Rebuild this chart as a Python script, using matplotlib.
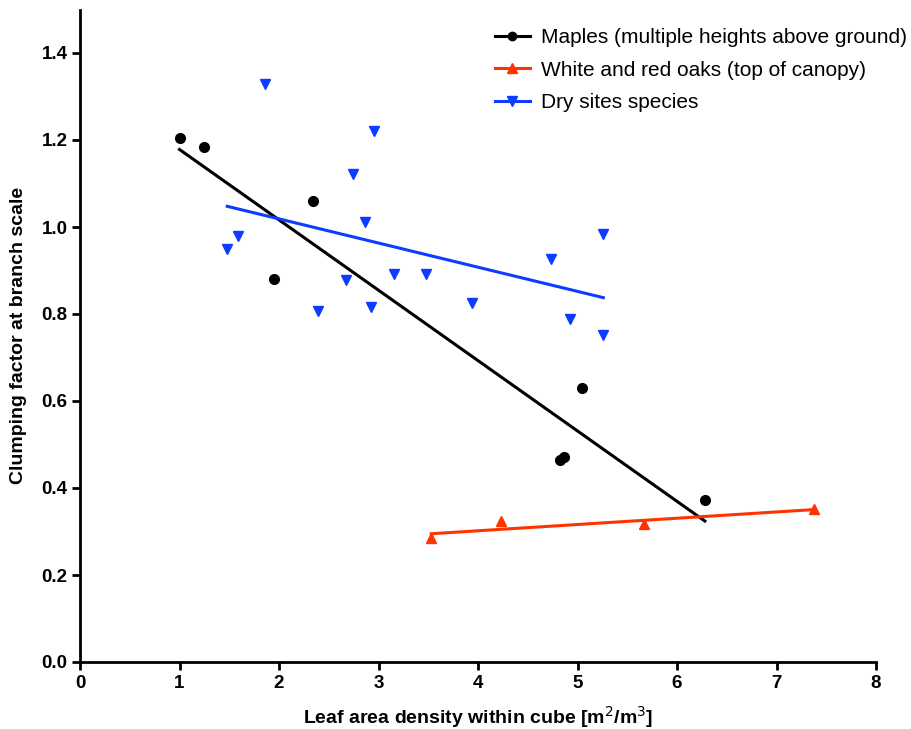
import matplotlib.pyplot as plt
import numpy as np

plt.rcParams['font.family'] = ['Liberation Sans', 'DejaVu Sans']

# Maples, several heights above ground
maple_lad = [1.00, 1.25, 2.34, 1.95, 5.05, 4.82, 4.86, 6.28]
maple_omega = [1.205, 1.183, 1.059, 0.880, 0.629, 0.464, 0.471, 0.372]

# White and red oaks, top of canopy
oak_lad = [3.53, 4.23, 5.67, 7.38]
oak_omega = [0.284, 0.323, 0.317, 0.352]

# Dry sites species
dry_lad = [1.86, 2.95, 2.74, 2.86, 1.59, 1.48, 2.67, 3.16, 3.48, 2.39,
           2.92, 5.26, 4.73, 3.94, 4.92, 5.26]
dry_omega = [1.329, 1.221, 1.122, 1.011, 0.979, 0.949, 0.878, 0.893, 0.893,
             0.807, 0.817, 0.985, 0.927, 0.825, 0.788, 0.752]

series = [
    ('Maples (multiple heights above ground)', maple_lad, maple_omega, 'black', 'o', 7),
    ('White and red oaks (top of canopy)', oak_lad, oak_omega, '#ff3300', '^', 7.5),
    ('Dry sites species', dry_lad, dry_omega, '#0d3bff', 'v', 7.5),
]

fig = plt.figure(figsize=(9.11, 7.29), dpi=100)
ax = fig.add_axes([80 / 911, 1 - 662 / 729, 796 / 911, 652.5 / 729])

for label, x, y, color, marker, ms in series:
    x = np.asarray(x)
    y = np.asarray(y)
    ax.plot(x, y, linestyle='none', marker=marker, color=color,
            markersize=ms, clip_on=False, zorder=3)
    # linear regression over the range of the data
    slope, intercept = np.polyfit(x, y, 1)
    xf = np.array([x.min(), x.max()])
    ax.plot(xf, slope * xf + intercept, color=color, lw=2.2, zorder=2)
    # legend proxy: line with marker
    ax.plot([], [], color=color, marker=marker, markersize=ms - 1, lw=2.2,
            label=label)

ax.set_xlim(0, 8)
ax.set_ylim(0, 1.5)
ax.set_xticks(np.arange(0, 9, 1))
ax.set_yticks(np.arange(0, 1.41, 0.2))
ax.set_yticklabels([f'{v:.1f}' for v in np.arange(0, 1.41, 0.2)])

for side in ('top', 'right'):
    ax.spines[side].set_visible(False)
for side in ('left', 'bottom'):
    ax.spines[side].set_linewidth(2)

ax.tick_params(direction='out', length=6, width=2, labelsize=13.5, pad=3)
for lab in ax.get_xticklabels() + ax.get_yticklabels():
    lab.set_fontweight('bold')

ax.set_xlabel('Leaf area density within cube [m$^2$/m$^3$]',
              fontsize=14, fontweight='bold', labelpad=9)
ax.set_ylabel('Clumping factor at branch scale', fontsize=14,
              fontweight='bold', labelpad=10)

ax.legend(loc='upper right', bbox_to_anchor=(1.062, 1.0), frameon=False,
          fontsize=15, handlelength=1.7, handletextpad=0.5, labelspacing=0.65)

fig.savefig('out.png', dpi=100)
